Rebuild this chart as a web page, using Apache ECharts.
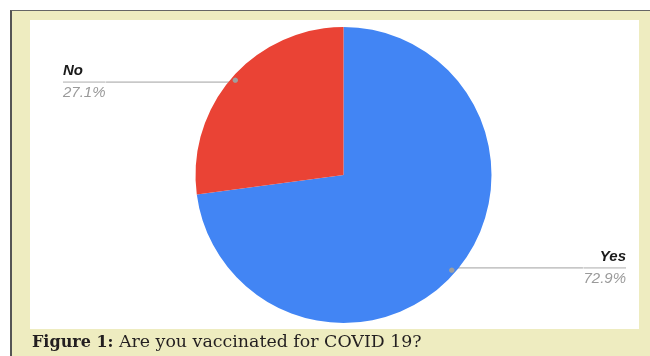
<!DOCTYPE html>
<html><head><meta charset="utf-8">
<script src="https://cdn.jsdelivr.net/npm/echarts@6/dist/echarts.min.js"></script>
<style>
html,body{margin:0;padding:0;background:#fff;overflow:hidden;}
#frame{position:absolute;left:10px;top:10px;width:640px;height:346px;background:#eeecc0;border-left:2px solid #555;border-top:1.5px solid #666;box-sizing:border-box;}
#panel{position:absolute;left:30px;top:20px;width:609px;height:309px;background:#fff;}
#chart{position:absolute;left:0;top:0;width:650px;height:356px;}
</style></head>
<body>
<div id="frame"></div><div id="panel"></div><div id="chart"></div>
<script>
// ---- data ----
const categories = ['Yes', 'No'];
const percentages = [72.9, 27.1];
const captionBold = 'Figure 1:';
const captionText = 'Are you vaccinated for COVID 19?';

// ---- styling / layout config ----
const sliceColors = ['#4285f4', '#ea4335'];
const edgeDist = { Yes: 24, No: 63 };
const center = [343.5, 175];

const chart = echarts.init(document.getElementById('chart'), null, { renderer: 'canvas' });

const transparent = 'rgba(0,0,0,0)';
const baseData = categories.map((c, i) => ({ name: c, value: percentages[i] }));

chart.setOption({
  animation: false,
  backgroundColor: transparent,
  title: {
    left: 27, top: 329,
    text: '{b|' + captionBold + '} {r|' + captionText + '}',
    textStyle: {
      fontWeight: 'normal', fontFamily: 'DejaVu Serif', fontSize: 17,
      rich: {
        b: { fontFamily: 'DejaVu Serif', fontWeight: 'bold', fontSize: 16, color: '#231f20' },
        r: { fontFamily: 'DejaVu Serif', fontWeight: 'normal', fontSize: 17.4, color: '#231f20' }
      }
    }
  },
  series: [
    {
      type: 'pie', silent: true,
      center: center, radius: 148, startAngle: 90, clockwise: true,
      label: { show: false }, labelLine: { show: false },
      itemStyle: { borderWidth: 0 },
      data: baseData.map((d, i) => ({ name: d.name, value: d.value, itemStyle: { color: sliceColors[i] } }))
    },
    {
      type: 'pie', silent: true,
      center: center, radius: 141, startAngle: 90, clockwise: true,
      itemStyle: { color: transparent, borderWidth: 0 },
      label: {
        show: true, position: 'outside', alignTo: 'edge', distanceToLabelLine: 0,
        formatter: p => '{name|' + p.name + '}\n{hr|}\n{per|' + p.value.toFixed(1) + '%}',
        rich: {
          name: { fontFamily: 'Liberation Sans', fontSize: 15, fontWeight: 'bold', fontStyle: 'italic', color: '#1a1a1a', lineHeight: 22 },
          hr: { width: '100%', height: 0, lineHeight: 0, borderColor: '#a0a0a0', borderWidth: 0.5 },
          per: { fontFamily: 'Liberation Sans', fontSize: 15, fontStyle: 'italic', color: '#9a9a9a', lineHeight: 22 }
        }
      },
      labelLine: { show: true, length: 0, length2: 10, smooth: false, lineStyle: { color: '#a0a0a0', width: 1 } },
      data: baseData.map(d => ({ name: d.name, value: d.value, label: { edgeDistance: edgeDist[d.name] } }))
    },
    {
      type: 'pie', silent: true,
      center: center, radius: [139, 143], startAngle: 90, clockwise: true,
      itemStyle: { color: transparent, borderWidth: 0 },
      label: { show: true, position: 'inside', formatter: '\u25CF', fontFamily: 'DejaVu Sans', fontSize: 7, color: '#9e9e9e' },
      labelLine: { show: false },
      data: baseData.map(d => ({ name: d.name, value: d.value }))
    }
  ]
});
</script>
</body></html>
